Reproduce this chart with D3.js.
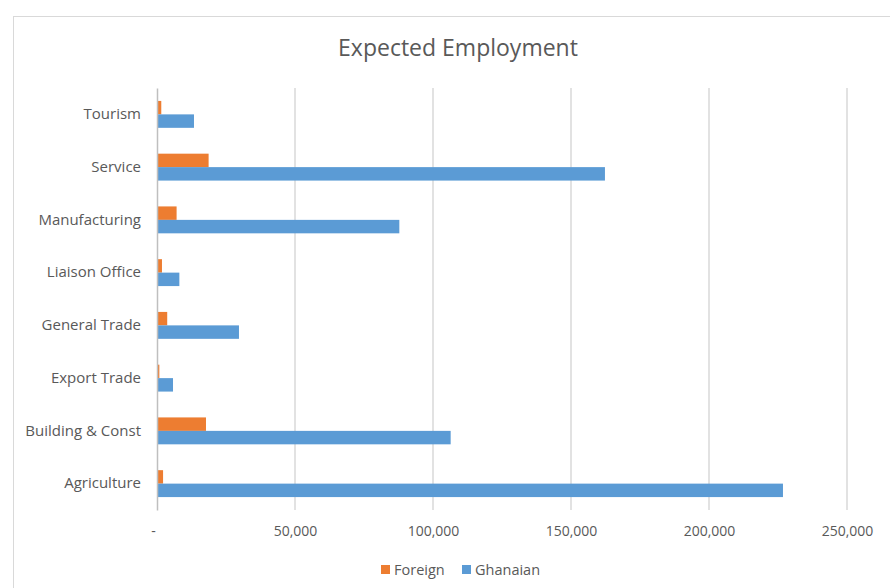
<!DOCTYPE html>
<html>
<head>
<meta charset="utf-8">
<script src="https://cdn.jsdelivr.net/npm/d3@7"></script>
<style>
  body { margin: 0; background: #fff; }
  svg { display: block; font-family: "Open Sans", "Noto Sans", sans-serif; }
</style>
</head>
<body>
<div id="chart"></div>
<script>
// Chart data, top to bottom as shown
let categories = ["Tourism", "Service", "Manufacturing", "Liaison Office",
                  "General Trade", "Export Trade", "Building & Const", "Agriculture"];
let foreign  = [1550, 18700, 7100, 1800, 3700, 850, 17750, 2200];
let ghanaian = [13400, 162300, 87800, 8100, 29700, 5800, 106400, 226800];
let seriesNames = ["Foreign", "Ghanaian"];
let seriesColors = ["#ED7D31", "#5B9BD5"];
let xTicks = [0, 50000, 100000, 150000, 200000, 250000];

let svgWidth = 890;
let svgHeight = 588;

let margin = { top: 88, right: 43, bottom: 78, left: 157 };
let chartWidth = svgWidth - margin.left - margin.right;
let chartHeight = svgHeight - margin.top - margin.bottom;

let svg = d3.select("#chart")
    .append("svg")
    .attr("width", svgWidth)
    .attr("height", svgHeight);

// outer chart frame
svg.append("rect")
    .attr("x", 13.5).attr("y", 16.5)
    .attr("width", 900).attr("height", 600)
    .attr("fill", "none")
    .attr("stroke", "#d9d9d9");

// title
svg.append("text")
    .attr("x", 458).attr("y", 56)
    .attr("text-anchor", "middle")
    .attr("fill", "#595959")
    .style("font-size", "23px")
    .text("Expected Employment");

let chartGroup = svg.append("g")
    .attr("transform", `translate(${margin.left}, ${margin.top})`);

let xScale = d3.scaleLinear().domain([0, 250000]).range([0, chartWidth]);
let yScale = d3.scaleBand().domain(categories).range([0, chartHeight]).paddingInner(0.49).paddingOuter(0.245);
let inner = d3.scaleBand().domain(seriesNames).range([0, yScale.bandwidth()]);

// gridlines
chartGroup.selectAll(".grid")
    .data(xTicks.slice(1))
    .enter()
    .append("line")
    .attr("x1", d => xScale(d)).attr("x2", d => xScale(d))
    .attr("y1", 0).attr("y2", chartHeight)
    .attr("stroke", "#d9d9d9")
    .attr("stroke-width", 1.5);

// x axis tick labels
let xAxis = d3.axisBottom(xScale)
    .tickValues(xTicks)
    .tickSize(0)
    .tickPadding(16)
    .tickFormat(d => d === 0 ? "-" : d3.format(",")(d));

let xAxisGroup = chartGroup.append("g")
    .attr("transform", `translate(0, ${chartHeight})`)
    .call(xAxis);
xAxisGroup.select(".domain").remove();
xAxisGroup.selectAll("text")
    .attr("fill", "#595959")
    .style("font-size", "14px")
    .style("font-family", "\"Open Sans\", sans-serif");
xAxisGroup.selectAll(".tick").filter(d => d === 0).select("text").attr("dx", -4);

// bars
let rows = categories.map((c, i) => ({ cat: c, values: [foreign[i], ghanaian[i]] }));
let groups = chartGroup.selectAll(".group")
    .data(rows)
    .enter()
    .append("g")
    .attr("transform", d => `translate(0, ${yScale(d.cat)})`);

groups.selectAll("rect")
    .data(d => d.values.map((v, j) => ({ name: seriesNames[j], value: v, color: seriesColors[j] })))
    .enter()
    .append("rect")
    .attr("x", 0)
    .attr("y", d => inner(d.name))
    .attr("width", d => xScale(d.value))
    .attr("height", inner.bandwidth())
    .attr("fill", d => d.color);

// y axis
let yAxis = d3.axisLeft(yScale).tickSize(0).tickPadding(16);
let yAxisGroup = chartGroup.append("g").call(yAxis);
yAxisGroup.select(".domain")
    .attr("stroke", "#bfbfbf")
    .attr("stroke-width", 1.5);
yAxisGroup.selectAll("text")
    .attr("fill", "#595959")
    .style("font-size", "15px")
    .style("font-family", "\"Open Sans\", sans-serif");

// legend
let legend = svg.append("g").attr("transform", "translate(381, 570)");
let legendX = [0, 81];
seriesNames.forEach((name, i) => {
    legend.append("rect")
        .attr("x", legendX[i]).attr("y", -5)
        .attr("width", 9).attr("height", 9)
        .attr("fill", seriesColors[i]);
    legend.append("text")
        .attr("x", legendX[i] + 13).attr("y", 5)
        .attr("fill", "#595959")
        .style("font-size", "14.5px")
        .text(name);
});
</script>
</body>
</html>
